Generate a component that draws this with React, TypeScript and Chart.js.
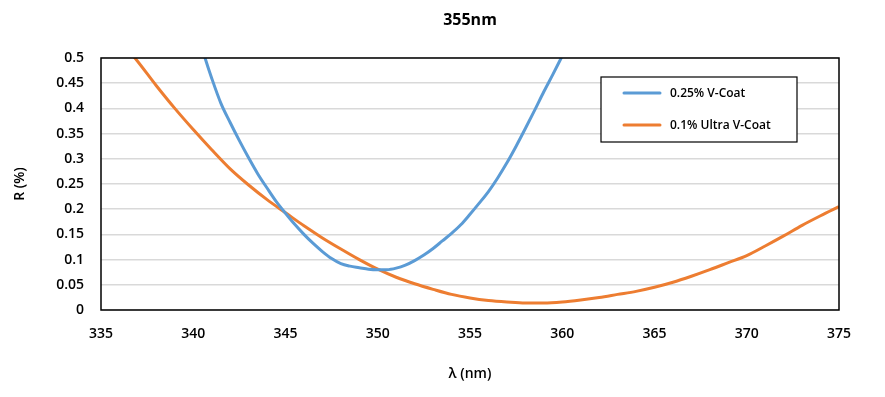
import React, { useEffect, useRef } from "react";
import { Chart, registerables } from "chart.js";

Chart.register(...registerables);

const titleText = "355nm";
const xTitle = "λ (nm)";
const yTitle = "R (%)";

const seriesLabels = ["0.25% V-Coat", "0.1% Ultra V-Coat"];
const seriesColors = ["#5B9BD5", "#ED7D31"];

const blueX = [340.4, 340.64, 341, 341.5, 342, 342.5, 343, 343.5, 344, 344.5, 345, 345.5, 346, 346.5, 347, 347.5, 348, 348.5, 349, 349.5, 350, 350.5, 351, 351.5, 352, 352.5, 353, 353.5, 354, 354.5, 355, 355.5, 356, 356.5, 357, 357.5, 358, 358.5, 359, 359.5, 360];
const blueY = [0.53, 0.5, 0.46, 0.41, 0.372, 0.336, 0.302, 0.27, 0.242, 0.215, 0.192, 0.17, 0.15, 0.132, 0.116, 0.102, 0.092, 0.087, 0.084, 0.081, 0.08, 0.08, 0.083, 0.089, 0.098, 0.109, 0.122, 0.137, 0.152, 0.169, 0.19, 0.212, 0.235, 0.262, 0.292, 0.325, 0.36, 0.396, 0.433, 0.468, 0.504];

const orangeX = [336.6, 336.84, 338, 339, 340, 341, 342, 343, 344, 345, 346, 347, 348, 349, 350, 351, 352, 353, 354, 355, 356, 357, 358, 359, 360, 361, 362, 363, 364, 365, 366, 367, 368, 369, 370, 371, 372, 373, 374, 375];
const orangeY = [0.51, 0.5, 0.445, 0.4, 0.358, 0.318, 0.28, 0.248, 0.219, 0.193, 0.167, 0.143, 0.121, 0.1, 0.081, 0.065, 0.052, 0.041, 0.031, 0.024, 0.019, 0.016, 0.014, 0.014, 0.016, 0.02, 0.025, 0.031, 0.037, 0.045, 0.055, 0.067, 0.08, 0.094, 0.108, 0.127, 0.147, 0.168, 0.187, 0.205];

const FAMILY = "'Open Sans', Roboto, sans-serif";

const overlayPlugin = {
  id: "overlay",
  afterDraw(chart: any) {
    const ctx = chart.ctx;
    const ca = chart.chartArea;
    ctx.save();
    ctx.strokeStyle = "#000";
    ctx.lineWidth = 1.5;
    ctx.strokeRect(ca.left, ca.top, ca.right - ca.left, ca.bottom - ca.top);
    ctx.fillStyle = "#000";
    ctx.font = `bold 16px ${FAMILY}`;
    ctx.textAlign = "center";
    ctx.textBaseline = "middle";
    ctx.fillText(titleText, (ca.left + ca.right) / 2, 20);
    const bx = 601, by = 77, bw = 196, bh = 65;
    ctx.fillStyle = "#fff";
    ctx.fillRect(bx, by, bw, bh);
    ctx.strokeStyle = "#000";
    ctx.lineWidth = 1.2;
    ctx.strokeRect(bx, by, bw, bh);
    ctx.font = `600 12px ${FAMILY}`;
    ctx.textAlign = "left";
    chart.data.datasets.forEach((ds: any, i: number) => {
      const y = 93 + i * 32;
      ctx.strokeStyle = ds.borderColor;
      ctx.lineWidth = 3;
      ctx.lineCap = "round";
      ctx.beginPath();
      ctx.moveTo(624, y);
      ctx.lineTo(660, y);
      ctx.stroke();
      ctx.fillStyle = "#000";
      ctx.fillText(ds.label, 670, y + 1);
    });
    ctx.restore();
  },
};

export default function App() {
  const ref = useRef<HTMLCanvasElement>(null);
  useEffect(() => {
    document.body.style.margin = "0";
    const toPts = (xs: number[], ys: number[]) => xs.map((x, i) => ({ x, y: ys[i] }));
    const font = { family: FAMILY, size: 14, weight: "600" };
    const chart = new Chart(ref.current!, {
      type: "line",
      data: {
        datasets: [
          {
            label: seriesLabels[0],
            data: toPts(blueX, blueY),
            borderColor: seriesColors[0],
            borderWidth: 3,
            pointRadius: 0,
            cubicInterpolationMode: "monotone",
          },
          {
            label: seriesLabels[1],
            data: toPts(orangeX, orangeY),
            borderColor: seriesColors[1],
            borderWidth: 3,
            pointRadius: 0,
            cubicInterpolationMode: "monotone",
          },
        ],
      },
      options: {
        animation: false,
        responsive: false,
        maintainAspectRatio: false,
        layout: { padding: { top: 58, right: 46, left: 0, bottom: 0 } },
        plugins: { legend: { display: false }, title: { display: false }, tooltip: { enabled: false } },
        scales: {
          x: {
            type: "linear",
            min: 335,
            max: 375,
            ticks: { stepSize: 5, color: "#000", font, padding: 16 },
            grid: { display: false, drawTicks: false },
            border: { display: false },
            title: { display: true, text: xTitle, color: "#000", font, padding: { top: 0, bottom: 15 } },
            afterFit: (s: any) => { s.height = 87; },
          },
          y: {
            min: 0,
            max: 0.5,
            ticks: { stepSize: 0.05, color: "#000", font, padding: 17, callback: (v: any) => String(Math.round(v * 100) / 100) },
            grid: { color: "#d9d9d9", lineWidth: 1.5, drawTicks: false },
            border: { display: false },
            title: { display: true, text: yTitle, color: "#000", font, padding: { top: 12, bottom: 10 } },
            afterFit: (s: any) => { s.width = 101; },
          },
        },
      } as any,
      plugins: [overlayPlugin],
    });
    return () => chart.destroy();
  }, []);
  return (
    <div style={{ position: "fixed", left: 0, top: 0, width: 885, height: 397, background: "#fff" }}>
      <canvas ref={ref} width={885} height={397} style={{ width: 885, height: 397 }} />
    </div>
  );
}
